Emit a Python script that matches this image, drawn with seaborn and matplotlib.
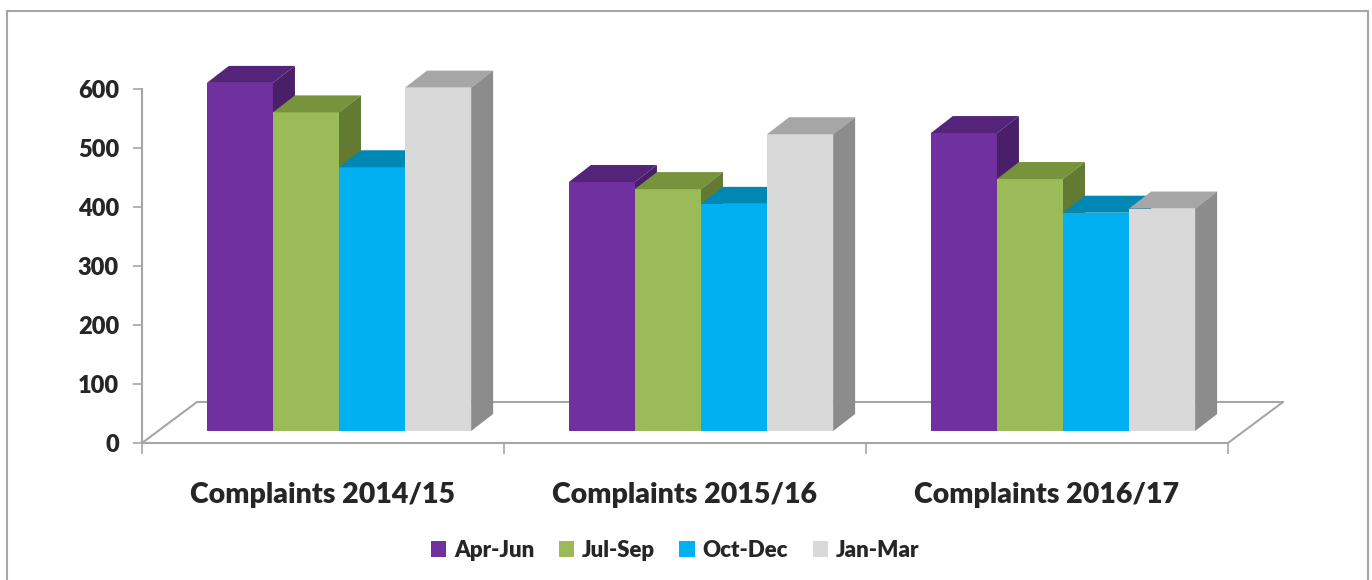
import pandas as pd
import matplotlib
matplotlib.use("Agg")
import matplotlib.pyplot as plt
from matplotlib.patches import Polygon, Rectangle
import seaborn as sns

# data
periods = ["Complaints 2014/15", "Complaints 2015/16", "Complaints 2016/17"]
quarters = ["Apr-Jun", "Jul-Sep", "Oct-Dec", "Jan-Mar"]
apr_jun = [590, 422, 505]
jul_sep = [540, 410, 427]
oct_dec = [447, 385, 370]
jan_mar = [582, 503, 377]

front_colors = ["#7030A0", "#9BBB59", "#00B0F0", "#D9D9D9"]
top_colors = ["#532479", "#77933C", "#0088B5", "#A6A6A6"]
side_colors = ["#4A1F6A", "#637A33", "#00779E", "#8C8C8C"]
grey = "#A6A6A6"

rows = []
for q, vals in zip(quarters, [apr_jun, jul_sep, oct_dec, jan_mar]):
    for p, v in zip(periods, vals):
        rows.append({"period": p, "quarter": q, "complaints": v})
df = pd.DataFrame(rows)

sns.set_theme(style="white")
plt.rcParams["font.family"] = ["Lato", "DejaVu Sans"]
plt.rcParams["font.weight"] = "heavy"

W, H = 1372, 580
fig = plt.figure(figsize=(W / 100, H / 100), dpi=100)
ax = fig.add_axes([142 / W, 1 - 443 / H, 1086 / W, 354 / H])

sns.barplot(data=df, x="period", y="complaints", hue="quarter",
            hue_order=quarters, order=periods, palette=front_colors,
            saturation=1, width=0.73, errorbar=None, linewidth=0, ax=ax)
ax.set_xlim(-0.5, 2.5)
ax.set_ylim(0, 600)

# pixel -> data conversions for the fake 3d look
px_x = 1086 / 3
px_y = 354 / 600
sx, sy = 16 / px_x, 12 / px_y     # bars sit behind the front axis plane
dx, dy = 22 / px_x, 17 / px_y     # bar depth
fx, fy = 55 / px_x, 41 / px_y     # floor depth

for i, cont in enumerate(ax.containers):
    for bar in cont:
        x0 = bar.get_x() + sx
        w = bar.get_width()
        h = bar.get_height()
        bar.set_x(x0)
        bar.set_y(sy)
        bar.set_zorder(3 + i)
        bar.set_clip_on(False)
        y1 = sy + h
        top = Polygon([(x0, y1), (x0 + w, y1), (x0 + w + dx, y1 + dy), (x0 + dx, y1 + dy)],
                      closed=True, fc=top_colors[i], ec="none", zorder=3 + i, clip_on=False)
        side = Polygon([(x0 + w, sy), (x0 + w + dx, sy + dy), (x0 + w + dx, y1 + dy), (x0 + w, y1)],
                       closed=True, fc=side_colors[i], ec="none", zorder=3 + i, clip_on=False)
        ax.add_patch(top)
        ax.add_patch(side)

# floor outline
ax.plot([-0.5 + fx, 2.5 + fx], [fy, fy], color=grey, lw=1.5, zorder=1, clip_on=False)
ax.plot([-0.5, -0.5 + fx], [0, fy], color=grey, lw=1.5, zorder=1, clip_on=False)
ax.plot([2.5, 2.5 + fx], [0, fy], color=grey, lw=1.5, zorder=1, clip_on=False)

for s in ["top", "right"]:
    ax.spines[s].set_visible(False)
for s in ["left", "bottom"]:
    ax.spines[s].set_color(grey)
    ax.spines[s].set_linewidth(1.5)

ax.set_yticks(range(0, 700, 100))
ax.tick_params(axis="y", left=True, direction="out", length=6.5, width=1.2,
               color=grey, labelsize=17, pad=10)
ax.set_xticks(range(len(periods)))
ax.set_xticklabels(periods)
ax.set_xticks([-0.5, 0.5, 1.5, 2.5], minor=True)
ax.tick_params(axis="x", which="major", bottom=False, labelsize=20.5, pad=22)
ax.tick_params(axis="x", which="minor", bottom=True, direction="out", length=8,
               width=1.2, color=grey)
for lbl in ax.get_xticklabels() + ax.get_yticklabels():
    lbl.set_fontweight("heavy")
ax.set_xlabel("")
ax.set_ylabel("")

sns.move_legend(ax, "center", bbox_to_anchor=(0.492, 0.051),
                bbox_transform=fig.transFigure, ncol=4, frameon=False, title=None,
                prop={"weight": "heavy", "size": 16}, handlelength=0.7,
                handleheight=0.7, handletextpad=0.35, columnspacing=1.1)

# chart area border
fig.patches.append(Rectangle((7 / W, -0.05), (1368 - 7) / W, 1 - 11 / H + 0.05,
                             transform=fig.transFigure, fill=False, ec=grey, lw=1.5))

fig.savefig("out.png", dpi=100)
